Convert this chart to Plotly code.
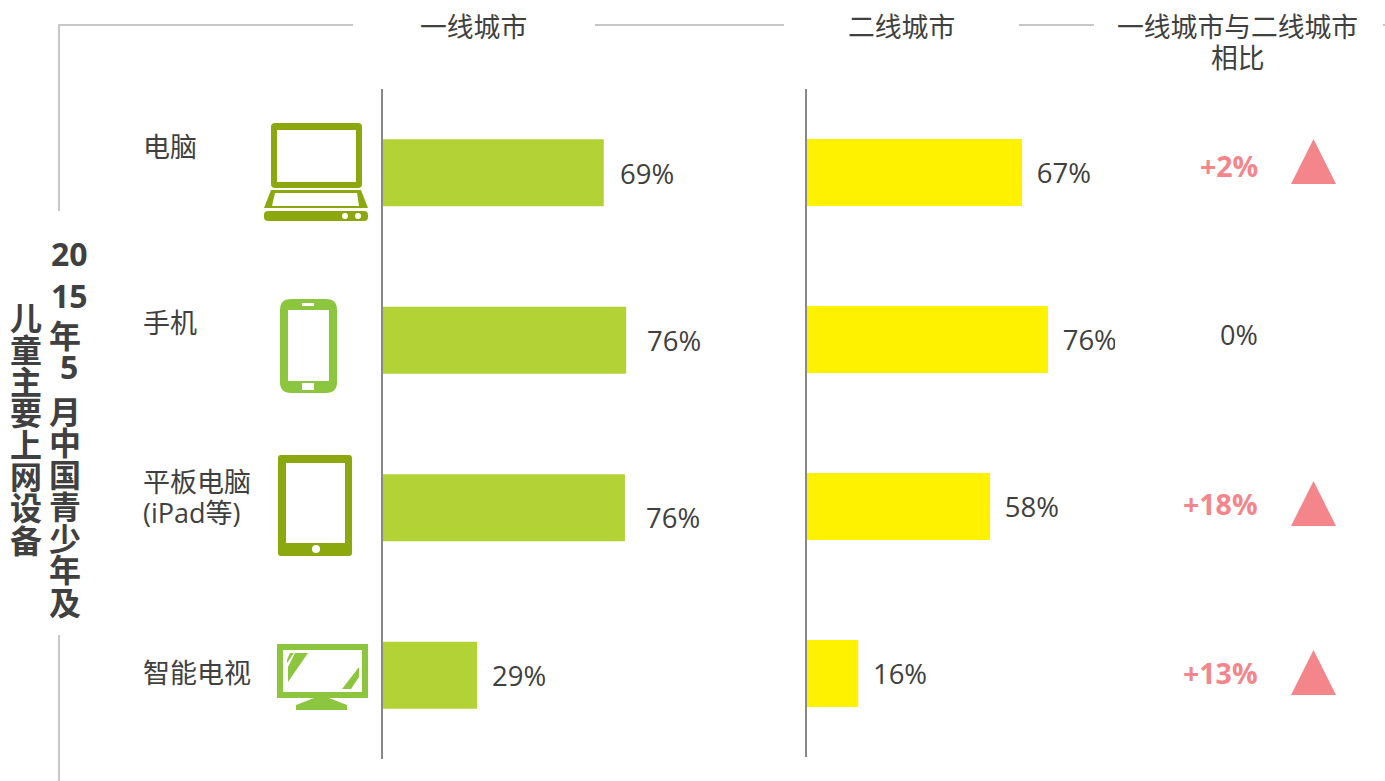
import plotly.graph_objects as go

W, H = 1385, 781

categories = ["电脑", "手机", "平板电脑\n(iPad等)", "智能电视"]
tier1_lengths = [69, 76, 75.6, 29.4]
tier2_lengths = [67.2, 75.3, 57.2, 16]
tier1_labels = ["69%", "76%", "76%", "29%"]
tier2_labels = ["67%", "76%", "58%", "16%"]
delta_labels = ["+2%", "0%", "+18%", "+13%"]
headers = ["一线城市", "二线城市", "一线城市与二线城市\n相比"]
title_left = list("儿童主要上网设备")
title_right = ["20", "15", "年", "5", "月", "中", "国", "青", "少", "年", "及"]

FONT = "'Open Sans','Noto Sans CJK SC',sans-serif"
CJK = "'Noto Sans CJK SC',sans-serif"
TXT = "#404040"
PINK = "#F4868B"
OLIVE = "#8BA80F"
GREEN = "#8CC63F"
BAR1 = "#B2D235"
BAR2 = "#FFF200"
RULE = "#C8C8C8"
AXIS = "#888888"


def px(x):
    return x / W


def py(y):
    return 1 - y / H


def poly(points, color):
    d = "M" + " L".join(f"{px(x):.5f},{py(y):.5f}" for x, y in points) + " Z"
    return dict(type="path", xref="paper", yref="paper", path=d,
                fillcolor=color, line=dict(width=0), layer="above")


def rrect(x0, y0, x1, y1, r, color):
    def p(x, y):
        return f"{px(x):.5f},{py(y):.5f}"
    d = (f"M{p(x0 + r, y0)} L{p(x1 - r, y0)} Q{p(x1, y0)} {p(x1, y0 + r)} "
         f"L{p(x1, y1 - r)} Q{p(x1, y1)} {p(x1 - r, y1)} L{p(x0 + r, y1)} "
         f"Q{p(x0, y1)} {p(x0, y1 - r)} L{p(x0, y0 + r)} Q{p(x0, y0)} {p(x0 + r, y0)} Z")
    return dict(type="path", xref="paper", yref="paper", path=d,
                fillcolor=color, line=dict(width=0), layer="above")


def dot(cx, cy, r, color):
    return dict(type="circle", xref="paper", yref="paper",
                x0=px(cx - r), x1=px(cx + r), y0=py(cy + r), y1=py(cy - r),
                fillcolor=color, line=dict(width=0), layer="above")


def hline(x0, x1, y):
    return dict(type="line", xref="paper", yref="paper", x0=px(x0), x1=px(x1),
                y0=py(y), y1=py(y), line=dict(color=RULE, width=2), layer="below")


def vline(x, y0, y1):
    return dict(type="line", xref="paper", yref="paper", x0=px(x), x1=px(x),
                y0=py(y0), y1=py(y1), line=dict(color=RULE, width=2), layer="below")


def text(x, y, s, size=27, color=TXT, anchor="center", bold=False, family=FONT):
    if bold:
        s = f"<b>{s}</b>"
    return dict(xref="paper", yref="paper", x=px(x), y=py(y), text=s, showarrow=False,
                xanchor=anchor, yanchor="middle", align="center",
                font=dict(family=family, size=size, color=color))


fig = go.Figure()
PX_PER_PCT = 3.2
fig.add_bar(x=tier1_lengths, y=[c.split("\n")[0] for c in categories], orientation="h",
            marker=dict(color=BAR1, line=dict(width=0)), xaxis="x", yaxis="y", hoverinfo="skip")
fig.add_bar(x=tier2_lengths, y=[c.split("\n")[0] for c in categories], orientation="h",
            marker=dict(color=BAR2, line=dict(width=0)), xaxis="x2", yaxis="y2", hoverinfo="skip",
            text=["\u00a0\u2009" + s for s in tier2_labels], textposition="outside",
            constraintext="none", cliponaxis=True,
            textfont=dict(family=FONT, size=27.5, color=TXT))


def axes(x0, x1, y0, y1):
    xa = dict(domain=[px(x0), px(x1)], range=[0, (x1 - x0) / PX_PER_PCT], visible=False,
              fixedrange=True)
    ya = dict(domain=[py(y1), py(y0)], autorange=False, range=[3.5, -0.5], showticklabels=False,
              ticks="", showgrid=False, zeroline=False, showline=True, linecolor=AXIS,
              linewidth=2, fixedrange=True)
    return xa, ya


xa1, ya1 = axes(383, 760, 89, 759)
xa2, ya2 = axes(807, 1115, 89, 757)
ya1["anchor"] = "x"
ya2["anchor"] = "x2"
xa1["anchor"] = "y"
xa2["anchor"] = "y2"

shapes = [
    hline(59, 353, 25), hline(595, 784, 25), hline(1019, 1094, 25), hline(1383, 1385, 25),
    vline(59, 24, 211), vline(59, 635, 781),
]
# laptop
shapes += [
    rrect(271, 123, 362, 188, 4, OLIVE), rrect(277, 130, 356, 182, 0, "white"),
    poly([(271, 190), (361, 190), (368, 208), (264, 208)], OLIVE),
    poly([(275, 193), (357, 193), (359, 206), (272, 206)], "white"),
    rrect(264, 211, 368, 221, 4, OLIVE),
    dot(345, 216, 3, "white"), dot(358, 216, 3, "white"),
]
# phone
shapes += [
    rrect(280, 299, 337, 393, 11, GREEN), rrect(288, 310, 329, 381, 0, "white"),
    rrect(302, 303, 314, 306, 0, "white"), rrect(302, 383, 314, 390, 0, "white"),
]
# tablet
shapes += [
    rrect(278, 455, 352, 556, 3, OLIVE), rrect(286, 463, 345, 543, 0, "white"),
    dot(316, 549, 4, "white"),
]
# tv
shapes += [
    rrect(277, 644, 368, 698, 0, GREEN), rrect(283, 650, 362, 692, 0, "white"),
    poly([(295, 653), (308, 653), (288, 682), (288, 667)], GREEN),
    poly([(287, 660), (290, 653), (294, 653), (287, 663)], GREEN),
    poly([(359, 667), (359, 677), (351, 689), (342, 689)], GREEN),
    poly([(314, 698), (329, 698), (347, 705), (347, 710), (296, 710), (296, 705)], GREEN),
]
# triangles
for top in (139, 481, 650):
    shapes.append(poly([(1313.5, top), (1336, top + 45), (1291, top + 45)], PINK))

ann = []
# headers
ann.append(text(474, 27, headers[0], size=26.8))
ann.append(text(901, 27, headers[1], size=26.8))
h3 = headers[2].split("\n")
ann.append(text(1237, 27, h3[0], size=26.8))
ann.append(text(1238, 58, h3[1], size=26.8))
# categories
cat_y = [[147], [322], [481, 512], [672]]
for c, ys in zip(categories, cat_y):
    for part, y in zip(c.split("\n"), ys):
        ann.append(text(141, y, part, anchor="left"))
# tier-1 value labels
shift1 = [14, 19, 19, 13]
yshift1 = [-1, 0, -10, 0]
for v, s, c, sh, ys in zip(tier1_lengths, tier1_labels, categories, shift1, yshift1):
    ann.append(dict(xref="x", yref="y", x=v, y=c.split("\n")[0], text=s, showarrow=False,
                    xanchor="left", yanchor="middle", xshift=sh, yshift=ys,
                    font=dict(family=FONT, size=27.5, color=TXT)))
# deltas
delta_y = [166, 334, 504, 673]
for s, y in zip(delta_labels, delta_y):
    if s == "0%":
        ann.append(text(1260, y, s, anchor="right"))
    else:
        ann.append(text(1260, y, s, size=28.5, color=PINK, anchor="right", bold=True))
# vertical title
left_y = [316, 348, 380, 411, 443, 475, 506, 539]
for ch, y in zip(title_left, left_y):
    ann.append(text(26, y, ch, size=32, bold=True, family=CJK))
right_y = [254, 295, 334, 367, 410, 441, 473, 505, 537, 568, 601]
for ch, y in zip(title_right, right_y):
    xc = 69 if ch.isdigit() else 65
    ann.append(text(xc, y, ch, size=32, bold=True, family=FONT if ch.isdigit() else CJK))

fig.update_layout(
    width=W, height=H, margin=dict(l=0, r=0, t=0, b=0, autoexpand=False),
    paper_bgcolor="white", plot_bgcolor="rgba(0,0,0,0)", showlegend=False,
    bargap=0.6, xaxis=xa1, yaxis=ya1, xaxis2=xa2, yaxis2=ya2,
    shapes=shapes, annotations=ann,
)
fig.write_html("out.html", config=dict(displayModeBar=False),
               post_script="document.body.style.margin='0';")
